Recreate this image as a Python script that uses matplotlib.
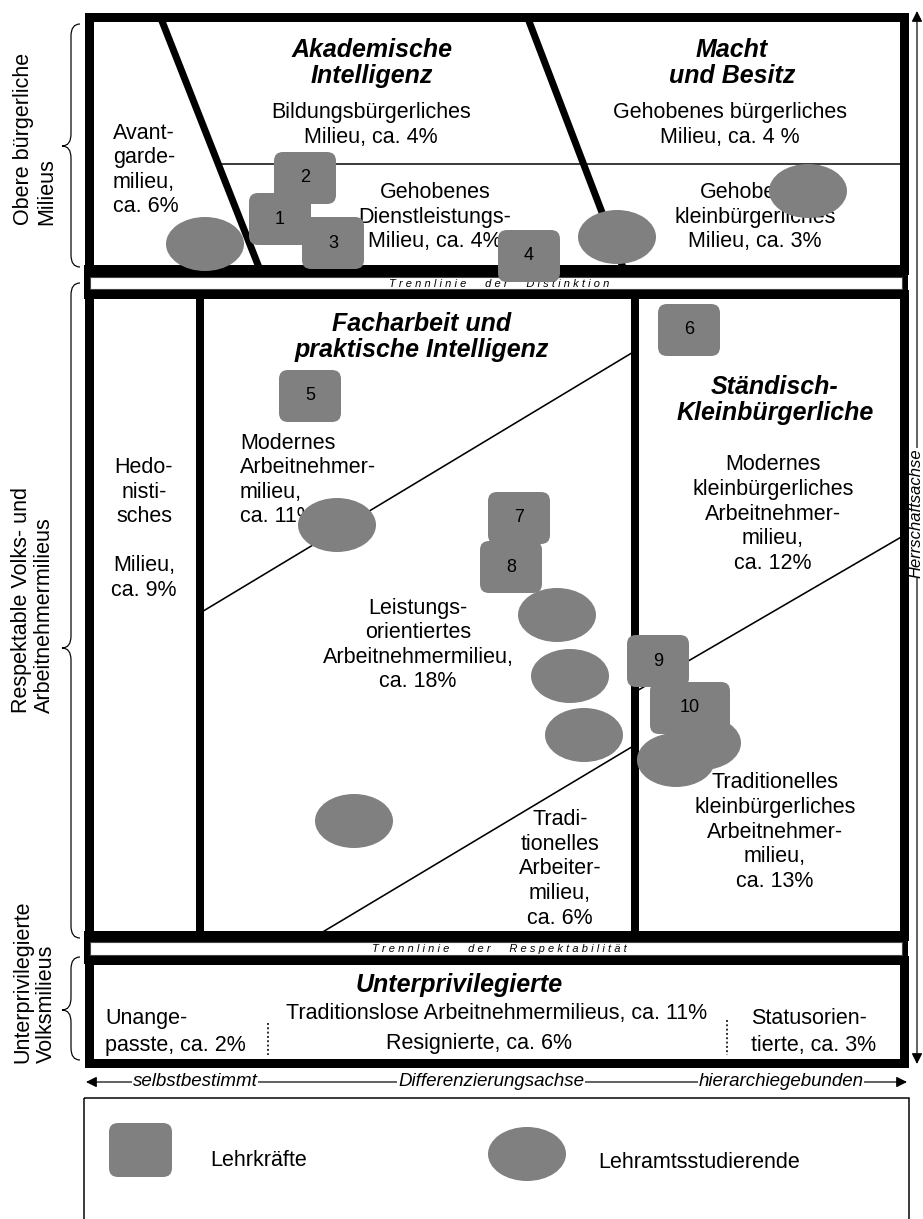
import matplotlib
matplotlib.use('Agg')
import matplotlib.pyplot as plt
from matplotlib.patches import FancyBboxPatch, Ellipse, Rectangle, PathPatch
from matplotlib.path import Path

plt.rcParams['font.family'] = ['Liberation Sans', 'DejaVu Sans']

# ---------------- data ----------------
teacher_labels = ['1', '2', '3', '4', '5', '6', '7', '8', '9', '10']
teacher_x = [280, 305, 333, 529, 310, 689, 519, 511, 658, 690]
teacher_y = [219, 178, 243, 256, 396, 330, 518, 567, 661, 708]

student_x = [205, 617, 808, 337, 557, 570, 584, 702, 676, 354]
student_y = [244, 237, 191, 525, 615, 676, 735, 743, 760, 821]

group_labels = ['Obere bürgerliche\nMilieus',
                'Respektable Volks- und\nArbeitnehmermilieus',
                'Unterprivilegierte\nVolksmilieus']

legend_labels = ['Lehrkräfte', 'Lehramtsstudierende']

# ---------------- figure ----------------
W, H = 923, 1219
fig = plt.figure(figsize=(W / 100, H / 100), dpi=100)
ax = fig.add_axes([0, 0, 1, 1])
ax.set_xlim(0, W)
ax.set_ylim(H, 0)
ax.axis('off')

PX = 0.72  # points per pixel
GRAY = '#808080'
BODY = 15.5
HEAD = 18

# black separator bands with white strips
for y0, hb, ys, hs, txt_ in [(265, 34, 277, 12, 'T r e n n l i n i e      d e r      D i s t i n k t i o n'),
                             (931, 33, 942, 13, 'T r e n n l i n i e      d e r      R e s p e k t a b i l i t ä t')]:
    ax.add_patch(Rectangle((84, y0), 824, hb, fc='black', ec='none', zorder=2))
    ax.add_patch(Rectangle((90, ys), 812, hs, fc='white', ec='#444444', lw=0.8, zorder=3))
    ax.text(499, ys + hs / 2 + 1, txt_, ha='center', va='center', fontsize=8,
            style='italic', zorder=4)

# boxes
ax.add_patch(Rectangle((88.5, 16.5), 815, 253.5, fill=False, ec='black', lw=9 * PX,
                       joinstyle='miter', zorder=3))
ax.add_patch(Rectangle((88.5, 294), 815, 642, fill=False, ec='black', lw=9 * PX,
                       joinstyle='miter', zorder=3))
ax.add_patch(Rectangle((88.5, 959.5), 815, 103, fill=False, ec='black', lw=9 * PX,
                       joinstyle='miter', zorder=3))

# inner vertical dividers in middle box
for xv in (200, 635):
    ax.plot([xv, xv], [294, 936], color='black', lw=8 * PX, solid_capstyle='butt', zorder=3)

# thick diagonals in top box
ax.plot([160, 260], [16, 270], color='black', lw=7 * PX, solid_capstyle='butt', zorder=3)
ax.plot([527, 624], [16, 270], color='black', lw=7 * PX, solid_capstyle='butt', zorder=3)
# thin horizontal line in top box
ax.plot([218, 903], [164, 164], color='black', lw=1.5 * PX, zorder=2)

# thin diagonals in middle box
ax.plot([200, 635], [613, 351], color='black', lw=1.6 * PX, zorder=2)
ax.plot([316, 635], [936, 745], color='black', lw=1.6 * PX, zorder=2)
ax.plot([635, 903], [692, 536], color='black', lw=1.6 * PX, zorder=2)

# dotted separators in bottom box
ax.plot([268, 268], [1023, 1055], color='black', lw=1.6 * PX, ls=(0, (1.2, 1.5)), zorder=2)
ax.plot([727, 727], [1020, 1055], color='black', lw=1.6 * PX, ls=(0, (1.2, 1.5)), zorder=2)


def txt(x, y, s, ha='center', bold=False, size=BODY, ls=1.22):
    ax.text(x, y, s, ha=ha, va='center', multialignment=ha if ha != 'center' else 'center',
            fontsize=size, fontweight='bold' if bold else 'normal',
            style='italic' if bold else 'normal', linespacing=ls, zorder=5)


# top box texts
txt(372, 63, 'Akademische\nIntelligenz', bold=True, size=HEAD, ls=1.15)
txt(371, 125, 'Bildungsbürgerliches\nMilieu, ca. 4%')
txt(732, 63, 'Macht\nund Besitz', bold=True, size=HEAD, ls=1.15)
txt(730, 125, 'Gehobenes bürgerliches\nMilieu, ca. 4 %')
txt(113, 170, 'Avant-\ngarde-\nmilieu,\nca. 6%', ha='left')
txt(435, 217, 'Gehobenes\nDienstleistungs-\nMilieu, ca. 4%')
txt(755, 217, 'Gehobenes\nkleinbürgerliches\nMilieu, ca. 3%')

# middle box texts
txt(422, 337, 'Facharbeit und\npraktische Intelligenz', bold=True, size=HEAD, ls=1.15)
txt(240, 480, 'Modernes\nArbeitnehmer-\nmilieu,\nca. 11%', ha='left')
txt(418, 645, 'Leistungs-\norientiertes\nArbeitnehmermilieu,\nca. 18%')
txt(144, 529, 'Hedo-\nnisti-\nsches\n\nMilieu,\nca. 9%')
txt(775, 400, 'Ständisch-\nKleinbürgerliche', bold=True, size=HEAD, ls=1.15)
txt(773, 514, 'Modernes\nkleinbürgerliches\nArbeitnehmer-\nmilieu,\nca. 12%')
txt(560, 869, 'Tradi-\ntionelles\nArbeiter-\nmilieu,\nca. 6%')
txt(775, 832, 'Traditionelles\nkleinbürgerliches\nArbeitnehmer-\nmilieu,\nca. 13%')

# bottom box texts
txt(459, 985, 'Unterprivilegierte', bold=True, size=HEAD)
txt(105, 1032, 'Unange-\npasste, ca. 2%', ha='left', ls=1.32)
txt(497, 1013, 'Traditionslose Arbeitnehmermilieus, ca. 11%')
txt(479, 1043, 'Resignierte, ca. 6%')
txt(751, 1032, 'Statusorien-\ntierte, ca. 3%', ha='left', ls=1.32)


# left braces and group labels
def brace(y0, y1, ytip, x_end=80, x_body=71, x_tip=62, r=12):
    verts = [(x_end, y0), (x_body, y0), (x_body, y0 + r),
             (x_body, ytip - r),
             (x_body, ytip), (x_tip, ytip),
             (x_body, ytip), (x_body, ytip + r),
             (x_body, y1 - r),
             (x_body, y1), (x_end, y1)]
    codes = [Path.MOVETO, Path.CURVE3, Path.CURVE3,
             Path.LINETO,
             Path.CURVE3, Path.CURVE3,
             Path.CURVE3, Path.CURVE3,
             Path.LINETO,
             Path.CURVE3, Path.CURVE3]
    ax.add_patch(PathPatch(Path(verts, codes), fill=False, ec='black', lw=1.2 * PX, zorder=2))


brace(24, 267, 146)
brace(283, 938, 648)
brace(957, 1060, 1010)

for (xa, ya), lab in zip([(35, 225), (33, 713), (35, 1063)], group_labels):
    ax.text(xa, ya, lab, rotation=90, rotation_mode='anchor', ha='left', va='center',
            multialignment='left', fontsize=15.5, linespacing=1.15, zorder=5)

# Herrschaftsachse (vertical axis)
ax.annotate('', xy=(917, 11), xytext=(917, 1064),
            arrowprops=dict(arrowstyle='<|-|>', color='black', lw=1.2 * PX,
                            mutation_scale=16, shrinkA=0, shrinkB=0), zorder=2)
ax.text(915.5, 513, 'Herrschaftsachse', rotation=90, ha='center', va='center',
        fontsize=12, style='italic', zorder=2.5,
        bbox=dict(fc='white', ec='none', pad=0.5))

# Differenzierungsachse (horizontal axis)
ax.annotate('', xy=(86, 1082), xytext=(907, 1082),
            arrowprops=dict(arrowstyle='<|-|>', color='black', lw=1.2 * PX,
                            mutation_scale=16, shrinkA=0, shrinkB=0), zorder=2)
for xt, s in [(195, 'selbstbestimmt'), (491, 'Differenzierungsachse'), (781, 'hierarchiegebunden')]:
    ax.text(xt, 1082, s, ha='center', va='center', fontsize=13.5, style='italic', zorder=4,
            bbox=dict(fc='white', ec='none', pad=0.5))

# markers: Lehramtsstudierende (ellipses)
for x, y in zip(student_x, student_y):
    ax.add_patch(Ellipse((x, y), 78, 54, fc=GRAY, ec='none', zorder=10))

# markers: Lehrkräfte (rounded squares)
for lab, x, y in zip(teacher_labels, teacher_x, teacher_y):
    w = 62 + 18 * (len(lab) - 1)
    h = 52
    ax.add_patch(FancyBboxPatch((x - w / 2, y - h / 2), w, h,
                                boxstyle='round,pad=0,rounding_size=9',
                                fc=GRAY, ec='none', zorder=10))
    ax.text(x, y, lab, ha='center', va='center', fontsize=13, color='black', zorder=12)

# legend box
ax.add_patch(Rectangle((84, 1098), 825, 160, fill=False, ec='black', lw=1.5 * PX, zorder=2))
ax.add_patch(FancyBboxPatch((109, 1123), 63, 54, boxstyle='round,pad=0,rounding_size=9',
                            fc=GRAY, ec='none', zorder=10))
ax.add_patch(Ellipse((527, 1154), 78, 54, fc=GRAY, ec='none', zorder=10))
ax.text(210, 1160, legend_labels[0], ha='left', va='center', fontsize=15.5, zorder=5)
ax.text(598, 1162, legend_labels[1], ha='left', va='center', fontsize=15.5, zorder=5)

fig.savefig('out.png', dpi=100)
